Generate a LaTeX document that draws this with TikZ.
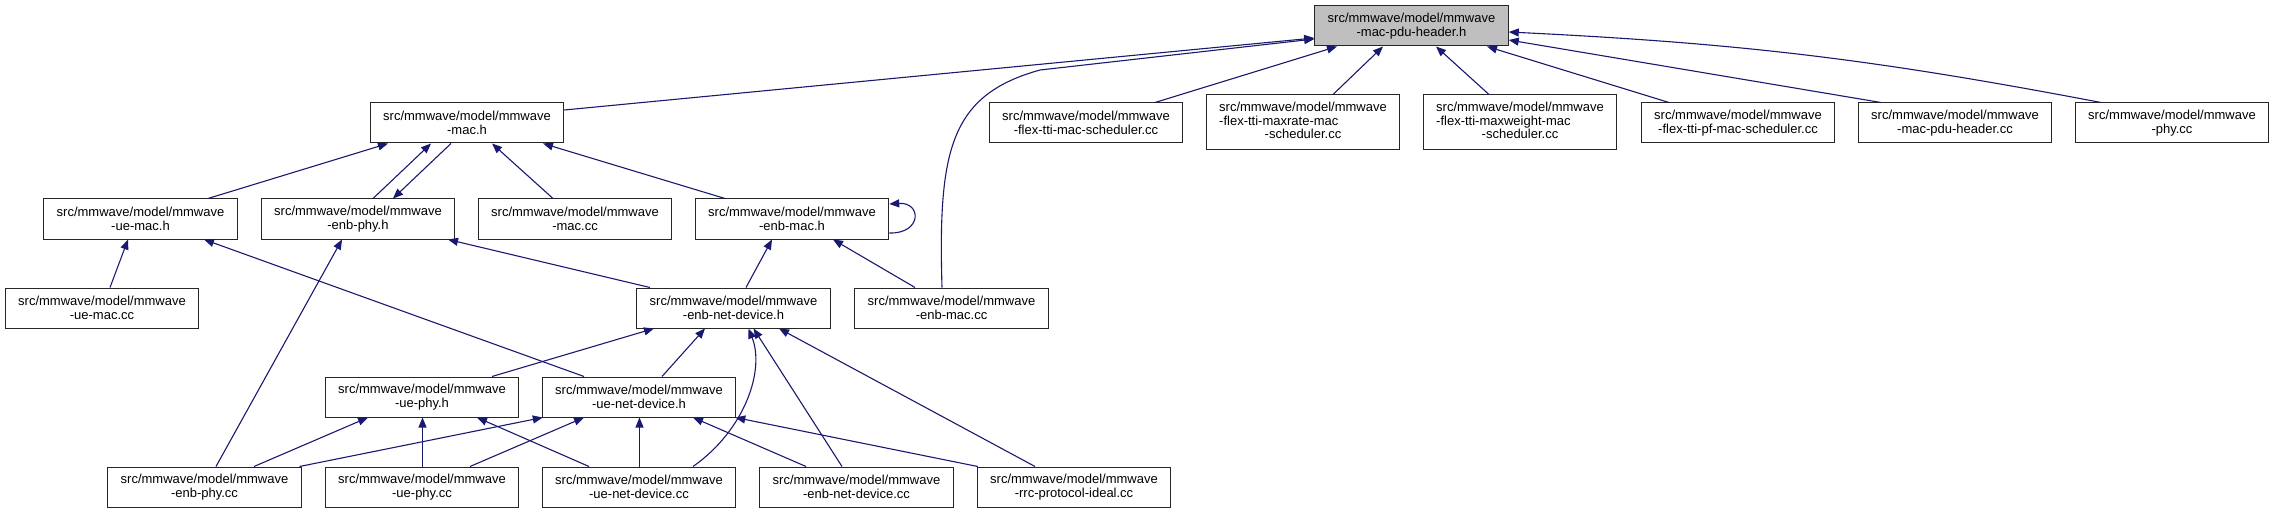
\documentclass[tikz,border=0pt]{standalone}
\usepackage{fontspec}
\setmainfont{Liberation Sans}
\usepackage{xcolor}
\usetikzlibrary{arrows.meta,positioning,calc}

\definecolor{edgeblue}{HTML}{191970}

\tikzset{
  file/.style={draw=black!85, line width=1pt, fill=white, inner sep=0pt,
               minimum width=193.5pt, minimum height=40pt, align=center,
               font=\fontsize{13}{13.5}\selectfont},
  tallfile/.style={file, minimum height=55pt},
  rootfile/.style={file, fill=gray!50},
  incl/.style={draw=edgeblue, line width=1.1pt,
               -{Triangle[length=10pt,width=8pt]}}
}

\begin{document}
\begin{tikzpicture}[x=1pt, y=-1pt]

%% ── Canvas: 1pt = 1px of the 2275x513 graph ──────────────────────────────────
\useasboundingbox (0,0) rectangle (2275,513);

%% ── Row 0: the header itself ─────────────────────────────────────────────────
\node[rootfile] (pduh) at (1411.5,26) {src/mmwave/model/mmwave\\-mac-pdu-header.h};

%% ── Row 1 ────────────────────────────────────────────────────────────────────
\node[file] (mach)     at (467,123)  {src/mmwave/model/mmwave\\-mac.h};
\node[file] (flexmac)  at (1086,123) {src/mmwave/model/mmwave\\-flex-tti-mac-scheduler.cc};
\node[tallfile] (maxrate) at (1303,122.5)
  {\begin{tabular}{@{}l@{}}src/mmwave/model/mmwave\\-flex-tti-maxrate-mac\\
   \multicolumn{1}{@{}c@{}}{-scheduler.cc}\end{tabular}};
\node[tallfile] (maxweight) at (1520,122.5)
  {\begin{tabular}{@{}l@{}}src/mmwave/model/mmwave\\-flex-tti-maxweight-mac\\
   \multicolumn{1}{@{}c@{}}{-scheduler.cc}\end{tabular}};
\node[file] (pfmac)    at (1738,123) {src/mmwave/model/mmwave\\-flex-tti-pf-mac-scheduler.cc};
\node[file] (pducc)    at (1955,123) {src/mmwave/model/mmwave\\-mac-pdu-header.cc};
\node[file] (phycc)    at (2172,123) {src/mmwave/model/mmwave\\-phy.cc};

%% ── Row 2 ────────────────────────────────────────────────────────────────────
\node[file] (uemach)   at (140.5,219) {src/mmwave/model/mmwave\\-ue-mac.h};
\node[file] (enbphyh)  at (358,219)   {src/mmwave/model/mmwave\\-enb-phy.h};
\node[file] (maccc)    at (575,219)   {src/mmwave/model/mmwave\\-mac.cc};
\node[file] (enbmach)  at (792,219)   {src/mmwave/model/mmwave\\-enb-mac.h};

%% ── Row 3 ────────────────────────────────────────────────────────────────────
\node[file] (uemaccc)  at (102,308)   {src/mmwave/model/mmwave\\-ue-mac.cc};
\node[file] (enbnetdevh) at (733.5,308) {src/mmwave/model/mmwave\\-enb-net-device.h};
\node[file] (enbmaccc) at (951.5,308) {src/mmwave/model/mmwave\\-enb-mac.cc};

%% ── Row 4 ────────────────────────────────────────────────────────────────────
\node[file] (uephyh)   at (422,397)   {src/mmwave/model/mmwave\\-ue-phy.h};
\node[file] (uenetdevh) at (639,397)  {src/mmwave/model/mmwave\\-ue-net-device.h};

%% ── Row 5 ────────────────────────────────────────────────────────────────────
\node[file] (enbphycc) at (204.5,487) {src/mmwave/model/mmwave\\-enb-phy.cc};
\node[file] (uephycc)  at (422,487)   {src/mmwave/model/mmwave\\-ue-phy.cc};
\node[file] (uenetdevcc) at (639,487) {src/mmwave/model/mmwave\\-ue-net-device.cc};
\node[file] (enbnetdevcc) at (856.5,487) {src/mmwave/model/mmwave\\-enb-net-device.cc};
\node[file] (rrccc)    at (1074,487)  {src/mmwave/model/mmwave\\-rrc-protocol-ideal.cc};

%% ── Includes of mac-pdu-header.h ─────────────────────────────────────────────
\draw[incl] ([yshift=13pt]mach.east) -- ([yshift=-12pt]pduh.west);
\draw[incl] ([xshift=-9.5pt]enbmaccc.north) .. controls (938,150) and (950,95) .. (1040,70)
  -- ([yshift=-13pt]pduh.west);
\draw[incl] ([xshift=69pt]flexmac.north) -- ([xshift=-74.5pt]pduh.south);
\draw[incl] ([xshift=30pt]maxrate.north) -- ([xshift=-28.5pt]pduh.south);
\draw[incl] ([xshift=-31pt]maxweight.north) -- ([xshift=24.5pt]pduh.south);
\draw[incl] ([xshift=-69pt]pfmac.north) -- ([xshift=75.5pt]pduh.south);
\draw[incl] ([xshift=-74pt]pducc.north) -- ([yshift=-14pt]pduh.east);
\draw[incl] ([xshift=-71pt]phycc.north) to[bend right=4] ([yshift=-6pt]pduh.east);

%% ── Includes of mac.h ────────────────────────────────────────────────────────
\draw[incl] ([xshift=67.5pt]uemach.north) -- ([xshift=-79pt]mach.south);
\draw[incl] ([xshift=15pt]enbphyh.north) -- ([xshift=-36pt]mach.south);
\draw[incl] ([xshift=-16pt]mach.south) -- ([xshift=35pt]enbphyh.north);
\draw[incl] ([xshift=-22pt]maccc.north) -- ([xshift=25pt]mach.south);
\draw[incl] ([xshift=-67pt]enbmach.north) -- ([xshift=76pt]mach.south);

%% ── Row 2 headers ────────────────────────────────────────────────────────────
\draw[incl] ([xshift=8pt]uemaccc.north) -- ([xshift=-12.5pt]uemach.south);
\draw[incl] ([xshift=-55pt]uenetdevh.north) -- ([xshift=63.5pt]uemach.south);
\draw[incl] ([xshift=11.5pt]enbphycc.north) -- ([xshift=-16pt]enbphyh.south);
\draw[incl] ([xshift=-83.5pt]enbnetdevh.north) -- ([xshift=90pt]enbphyh.south);
\draw[incl] ([xshift=12.5pt]enbnetdevh.north) -- ([xshift=-20pt]enbmach.south);
\draw[incl] ([xshift=-36.5pt]enbmaccc.north) -- ([xshift=41pt]enbmach.south);
\draw[incl] ([yshift=-14pt]enbmach.east) .. controls (922,234) and (922,202)
  .. ([yshift=15pt]enbmach.east);

%% ── Includes of enb-net-device.h ─────────────────────────────────────────────
\draw[incl] ([xshift=70pt]uephyh.north) -- ([xshift=-79.5pt]enbnetdevh.south);
\draw[incl] ([xshift=23pt]uenetdevh.north) -- ([xshift=-28.5pt]enbnetdevh.south);
\draw[incl] ([xshift=54pt]uenetdevcc.north) .. controls (745,430) and (765,370)
  .. ([xshift=15pt]enbnetdevh.south);
\draw[incl] ([xshift=-14.5pt]enbnetdevcc.north) -- ([xshift=20pt]enbnetdevh.south);
\draw[incl] ([xshift=-39pt]rrccc.north) -- ([xshift=45.5pt]enbnetdevh.south);

%% ── Includes of ue-phy.h / ue-net-device.h ───────────────────────────────────
\draw[incl] ([xshift=49.5pt]enbphycc.north) -- ([xshift=-54pt]uephyh.south);
\draw[incl] ([xshift=0.5pt]uephycc.north) -- ([xshift=0.5pt]uephyh.south);
\draw[incl] ([xshift=-50pt]uenetdevcc.north) -- ([xshift=55pt]uephyh.south);
\draw[incl] ([xshift=95pt]enbphycc.north) -- ([xshift=1pt]uenetdevh.south west);
\draw[incl] ([xshift=48pt]uephycc.north) -- ([xshift=-55pt]uenetdevh.south);
\draw[incl] ([xshift=0.5pt]uenetdevcc.north) -- ([xshift=0.5pt]uenetdevh.south);
\draw[incl] ([xshift=-50.5pt]enbnetdevcc.north) -- ([xshift=54pt]uenetdevh.south);
\draw[incl] ([xshift=1pt]rrccc.north west) -- ([xshift=-1pt]uenetdevh.south east);

\end{tikzpicture}
\end{document}
